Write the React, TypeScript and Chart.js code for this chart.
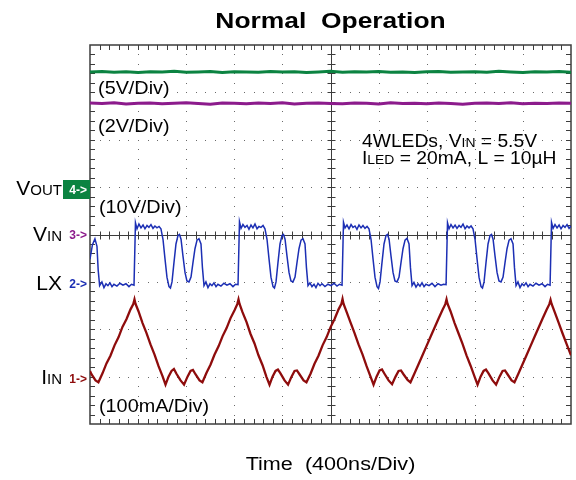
import React, { useEffect, useRef } from "react";
import { Chart, registerables } from "chart.js";

Chart.register(...registerables);

// ---------------- data (time in ns, amplitude in screen divisions from centre) ----------------
const NS_PER_DIV = 400;
const X_DIVS = 10;
const Y_DIVS = 8;
const TIME_MAX = NS_PER_DIV * X_DIVS;
const DIV_HALF = Y_DIVS / 2;

const flatTimes = [
  0, 100, 200, 300, 400, 500, 600, 700, 800, 900, 1000, 1100, 1200, 1300, 1400, 1500, 1600, 1700, 1800, 1900,
  2000, 2100, 2200, 2300, 2400, 2500, 2600, 2700, 2800, 2900, 3000, 3100, 3200, 3300, 3400, 3500, 3600, 3700,
  3800, 3900, 4000,
];

// CH4 VOUT trace
const voutLevels = [
  3.43, 3.44, 3.425, 3.435, 3.42, 3.435, 3.43, 3.445, 3.425, 3.43, 3.44, 3.42, 3.435, 3.43, 3.425, 3.44, 3.43,
  3.435, 3.42, 3.43, 3.445, 3.425, 3.435, 3.43, 3.44, 3.425, 3.43, 3.42, 3.435, 3.44, 3.425, 3.43, 3.435, 3.425,
  3.445, 3.43, 3.42, 3.435, 3.43, 3.44, 3.425,
];

// CH3 VIN trace
const vinLevels = [
  2.775, 2.765, 2.78, 2.755, 2.77, 2.775, 2.76, 2.77, 2.78, 2.765, 2.75, 2.775, 2.77, 2.76, 2.775, 2.765, 2.78,
  2.755, 2.77, 2.775, 2.765, 2.76, 2.775, 2.77, 2.755, 2.78, 2.765, 2.77, 2.76, 2.775, 2.765, 2.75, 2.77, 2.775,
  2.765, 2.78, 2.76, 2.77, 2.765, 2.775, 2.77,
];

// CH2 LX switching node
const lxTrace: [number, number][] = [
  [0, -0.52], [20, -0.22], [41, -0.09], [58, -0.25], [68, -0.75], [80, -1.08], [99, -1.0], [116, -1.12],
  [133, -1.04], [149, -1.08], [166, -1.02], [183, -1.1], [199, -1.05], [224, -1.09], [249, -1.03], [274, -1.07],
  [299, -1.04], [324, -1.1], [345, -1.05],
  [366, -1.07], [378, 0.25], [391, 0.12], [407, 0.22], [424, 0.14], [441, 0.2], [457, 0.12], [474, 0.19],
  [490, 0.15], [507, 0.21], [524, 0.13], [540, 0.18], [557, 0.14], [574, 0.17], [590, 0.12], [607, -0.1],
  [623, -0.5], [640, -0.9], [657, -1.1], [669, -1.13], [682, -1.0], [698, -0.6], [715, -0.2], [732, -0.02],
  [744, 0.0], [757, -0.1], [773, -0.45], [790, -0.8], [806, -0.98], [823, -1.0], [840, -0.9], [856, -0.6],
  [873, -0.3], [890, -0.12], [906, -0.09], [923, -0.2], [935, -0.7], [948, -1.08], [964, -1.0], [981, -1.12],
  [998, -1.04], [1014, -1.08], [1031, -1.02], [1048, -1.1], [1064, -1.05], [1089, -1.09], [1114, -1.03],
  [1139, -1.07], [1164, -1.04], [1189, -1.1], [1210, -1.05],
  [1231, -1.06], [1243, 0.27], [1256, 0.13], [1272, 0.21], [1289, 0.15], [1306, 0.19], [1322, 0.11],
  [1339, 0.2], [1355, 0.14], [1372, 0.22], [1389, 0.12], [1405, 0.17], [1422, 0.15], [1439, 0.19], [1455, 0.12],
  [1472, -0.1], [1488, -0.5], [1505, -0.9], [1522, -1.1], [1534, -1.13], [1547, -1.0], [1563, -0.6],
  [1580, -0.2], [1597, -0.02], [1609, 0.0], [1622, -0.1], [1638, -0.45], [1655, -0.8], [1671, -0.98],
  [1688, -1.0], [1705, -0.9], [1721, -0.6], [1738, -0.3], [1755, -0.12], [1771, -0.09], [1788, -0.2],
  [1800, -0.7], [1813, -1.08], [1829, -1.02], [1846, -1.1], [1863, -1.05], [1879, -1.12], [1896, -1.03],
  [1913, -1.08], [1929, -1.04], [1954, -1.1], [1979, -1.05], [2004, -1.08], [2029, -1.03], [2054, -1.09],
  [2075, -1.05],
  [2096, -1.07], [2108, 0.26], [2121, 0.14], [2137, 0.2], [2154, 0.12], [2171, 0.21], [2187, 0.15],
  [2204, 0.18], [2220, 0.11], [2237, 0.2], [2254, 0.14], [2270, 0.19], [2287, 0.13], [2304, 0.17], [2320, 0.12],
  [2337, -0.1], [2353, -0.5], [2370, -0.9], [2387, -1.1], [2399, -1.14], [2412, -1.0], [2428, -0.6],
  [2445, -0.2], [2462, -0.02], [2474, 0.0], [2487, -0.1], [2503, -0.45], [2520, -0.8], [2536, -0.98],
  [2553, -1.0], [2570, -0.9], [2586, -0.6], [2603, -0.3], [2620, -0.12], [2636, -0.08], [2653, -0.2],
  [2665, -0.7], [2678, -1.08], [2694, -1.01], [2711, -1.11], [2728, -1.04], [2744, -1.09], [2761, -1.02],
  [2778, -1.1], [2794, -1.05], [2819, -1.08], [2844, -1.03], [2869, -1.1], [2894, -1.04], [2919, -1.07],
  [2940, -1.05],
  [2961, -1.06], [2973, 0.25], [2986, 0.12], [3002, 0.21], [3019, 0.14], [3036, 0.2], [3052, 0.13],
  [3069, 0.19], [3085, 0.15], [3102, 0.22], [3119, 0.12], [3135, 0.18], [3152, 0.14], [3169, 0.18], [3185, 0.12],
  [3202, -0.1], [3218, -0.5], [3235, -0.9], [3252, -1.1], [3264, -1.13], [3277, -1.0], [3293, -0.6],
  [3310, -0.2], [3327, -0.02], [3339, 0.0], [3352, -0.1], [3368, -0.45], [3385, -0.8], [3401, -0.98],
  [3418, -1.0], [3435, -0.9], [3451, -0.6], [3468, -0.3], [3485, -0.12], [3501, -0.09], [3518, -0.2],
  [3530, -0.7], [3543, -1.08], [3559, -1.0], [3576, -1.12], [3593, -1.04], [3609, -1.08], [3626, -1.02],
  [3643, -1.1], [3659, -1.05], [3684, -1.09], [3709, -1.03], [3734, -1.07], [3759, -1.04], [3784, -1.1],
  [3805, -1.05],
  [3826, -1.07], [3838, 0.26], [3851, 0.13], [3867, 0.21], [3884, 0.14], [3901, 0.2], [3917, 0.12],
  [3934, 0.19], [3950, 0.15], [3967, 0.21], [3984, 0.13], [4000, 0.18],
];

// CH1 input current
const iinTrace: [number, number][] = [
  [0, -2.88], [12, -2.95], [46, -3.08], [70, -3.12], [104, -2.93], [137, -2.72], [170, -2.56], [204, -2.34],
  [237, -2.17], [270, -1.95], [303, -1.79], [337, -1.58], [360, -1.47], [370, -1.37], [378, -1.46],
  [403, -1.62], [437, -1.87], [470, -2.08], [503, -2.32], [536, -2.53], [570, -2.78], [603, -2.99], [628, -3.17],
  [653, -3.0], [678, -2.88], [698, -2.84], [719, -2.94], [753, -3.08], [782, -3.17], [811, -3.0], [836, -2.88],
  [856, -2.86], [877, -2.95], [911, -3.08], [935, -3.12], [969, -2.92], [1002, -2.75], [1035, -2.54],
  [1069, -2.36], [1102, -2.15], [1135, -1.98], [1168, -1.77], [1202, -1.6], [1225, -1.47], [1235, -1.37],
  [1243, -1.46],
  [1268, -1.64], [1302, -1.85], [1335, -2.1], [1368, -2.3], [1401, -2.55], [1435, -2.76], [1468, -3.01],
  [1493, -3.17], [1518, -3.0], [1543, -2.88], [1563, -2.85], [1584, -2.93], [1618, -3.08], [1647, -3.17],
  [1676, -3.0], [1701, -2.88], [1721, -2.87], [1742, -2.95], [1776, -3.08], [1800, -3.12], [1834, -2.94],
  [1867, -2.73], [1900, -2.56], [1934, -2.34], [1967, -2.17], [2000, -1.96], [2033, -1.79], [2067, -1.58],
  [2090, -1.47], [2100, -1.36], [2108, -1.46],
  [2133, -1.63], [2167, -1.86], [2200, -2.08], [2233, -2.32], [2266, -2.53], [2300, -2.78], [2333, -3.0],
  [2358, -3.17], [2383, -3.0], [2408, -2.87], [2428, -2.85], [2449, -2.94], [2483, -3.08], [2512, -3.16],
  [2541, -3.0], [2566, -2.88], [2586, -2.87], [2607, -2.95], [2641, -3.07], [2665, -3.12], [2699, -2.93],
  [2732, -2.74], [2765, -2.55], [2799, -2.35], [2832, -2.16], [2865, -1.97], [2898, -1.78], [2932, -1.59],
  [2955, -1.47], [2965, -1.37], [2973, -1.46],
  [2998, -1.62], [3032, -1.87], [3065, -2.09], [3098, -2.31], [3131, -2.55], [3165, -2.77], [3198, -3.0],
  [3223, -3.17], [3248, -3.0], [3273, -2.88], [3293, -2.85], [3314, -2.93], [3348, -3.08], [3377, -3.17],
  [3406, -3.0], [3431, -2.88], [3451, -2.87], [3472, -2.95], [3506, -3.08], [3530, -3.12], [3564, -2.93],
  [3597, -2.74], [3630, -2.55], [3664, -2.35], [3697, -2.16], [3730, -1.97], [3763, -1.78], [3797, -1.59],
  [3820, -1.47], [3830, -1.38], [3838, -1.46],
  [3863, -1.63], [3897, -1.86], [3930, -2.09], [3963, -2.31], [4000, -2.55],
];

// channel ground markers (level in divisions)
const markerNames = ["V", "V", "LX", "I"];
const markerSubs = ["OUT", "IN", "", "IN"];
const markerTags = ["4->", "3->", "2->", "1->"];
const markerLevels = [0.95, 0, -1.04, -3.03];

// on-screen annotations (time ns, level div)
const scaleTexts = ["(5V/Div)", "(2V/Div)", "(10V/Div)", "(100mA/Div)"];
const scaleTextPos: [number, number][] = [[67, 2.97], [67, 2.17], [75, 0.46], [75, -3.74]];

const TITLE = "Normal  Operation";
const X_TITLE = "Time  (400ns/Div)";

// ---------------- styles ----------------
const FONT = "'Liberation Sans', Arial, Helvetica, sans-serif";
const GREEN = "#0b8341";
const PURPLE = "#8c1b8c";
const BLUE = "#1c2fb4";
const RED = "#8e0c0c";
const CH_COLORS = [GREEN, PURPLE, BLUE, RED];
const FRAME = "#3c3c3c";
const DOT = "#6a6a6a";

type Part = { text: string; size: number; bold?: boolean; color?: string; dy?: number };

function drawRich(ctx: CanvasRenderingContext2D, parts: Part[], x: number, y: number, align: string, stretch: number) {
  ctx.save();
  let w = 0;
  for (const p of parts) {
    ctx.font = `${p.bold ? "bold " : ""}${p.size}px ${FONT}`;
    w += ctx.measureText(p.text).width;
  }
  const sx = align === "center" ? x - (w * stretch) / 2 : align === "right" ? x - w * stretch : x;
  ctx.translate(sx, y);
  ctx.scale(stretch, 1);
  ctx.textAlign = "left";
  ctx.textBaseline = "alphabetic";
  let cx = 0;
  for (const p of parts) {
    ctx.font = `${p.bold ? "bold " : ""}${p.size}px ${FONT}`;
    ctx.fillStyle = p.color || "#000";
    ctx.fillText(p.text, cx, p.dy || 0);
    cx += ctx.measureText(p.text).width;
  }
  ctx.restore();
}

const scopePlugin = {
  id: "scopeScreen",
  beforeDatasetsDraw(chart: any) {
    const { ctx, chartArea: a, scales } = chart;
    const xs = scales.x;
    const ys = scales.y;
    ctx.save();
    // dotted graticule
    ctx.fillStyle = DOT;
    for (let d = 1; d < X_DIVS; d++) {
      if (d === X_DIVS / 2) continue;
      const px = Math.round(xs.getPixelForValue(d * NS_PER_DIV));
      for (let m = 1; m < Y_DIVS * 5; m++) {
        const py = Math.round(ys.getPixelForValue(-DIV_HALF + m / 5));
        ctx.fillRect(px, py, 1, 1);
      }
    }
    for (let d = 1; d < Y_DIVS; d++) {
      if (d === Y_DIVS / 2) continue;
      const py = Math.round(ys.getPixelForValue(-DIV_HALF + d));
      for (let m = 1; m < X_DIVS * 5; m++) {
        const px = Math.round(xs.getPixelForValue((m * NS_PER_DIV) / 5));
        ctx.fillRect(px, py, 1, 1);
      }
    }
    // centre cross + border ticks
    ctx.strokeStyle = FRAME;
    ctx.lineWidth = 1;
    const cx = Math.round(xs.getPixelForValue(TIME_MAX / 2)) + 0.5;
    const cy = Math.round(ys.getPixelForValue(0)) + 0.5;
    ctx.beginPath();
    ctx.moveTo(cx, a.top);
    ctx.lineTo(cx, a.bottom);
    ctx.moveTo(a.left, cy);
    ctx.lineTo(a.right, cy);
    for (let m = 1; m < X_DIVS * 5; m++) {
      const px = Math.round(xs.getPixelForValue((m * NS_PER_DIV) / 5)) + 0.5;
      ctx.moveTo(px, a.top);
      ctx.lineTo(px, a.top + 5);
      ctx.moveTo(px, a.bottom - 5);
      ctx.lineTo(px, a.bottom);
      ctx.moveTo(px, cy - 4);
      ctx.lineTo(px, cy + 4);
    }
    for (let m = 1; m < Y_DIVS * 5; m++) {
      const py = Math.round(ys.getPixelForValue(-DIV_HALF + m / 5)) + 0.5;
      ctx.moveTo(a.left, py);
      ctx.lineTo(a.left + 5, py);
      ctx.moveTo(a.right - 5, py);
      ctx.lineTo(a.right, py);
      ctx.moveTo(cx - 4, py);
      ctx.lineTo(cx + 4, py);
    }
    ctx.stroke();
    ctx.lineWidth = 1.5;
    ctx.strokeRect(a.left, a.top, a.right - a.left, a.bottom - a.top);
    ctx.restore();
  },
  afterDraw(chart: any) {
    const { ctx, chartArea: a, scales } = chart;
    const xs = scales.x;
    const ys = scales.y;
    const mid = (a.left + a.right) / 2;
    drawRich(ctx, [{ text: TITLE, size: 22, bold: true }], mid, 28, "center", 1.2);
    drawRich(ctx, [{ text: X_TITLE, size: 18 }], mid, 470, "center", 1.2);

    scaleTexts.forEach((t, i) => {
      const [tx, ty] = scaleTextPos[i];
      drawRich(ctx, [{ text: t, size: 18 }], xs.getPixelForValue(tx), ys.getPixelForValue(ty), "left", 1.1);
    });

    const infoX = xs.getPixelForValue(2262);
    drawRich(
      ctx,
      [
        { text: "4WLEDs, V", size: 18 },
        { text: "IN", size: 13 },
        { text: " = 5.5V", size: 18 },
      ],
      infoX,
      ys.getPixelForValue(1.85),
      "left",
      1.07
    );
    drawRich(
      ctx,
      [
        { text: "I", size: 18 },
        { text: "LED", size: 13 },
        { text: " = 20mA, L = 10\u00b5H", size: 18 },
      ],
      infoX,
      ys.getPixelForValue(1.49),
      "left",
      1.07
    );

    // channel markers at left of the screen
    markerLevels.forEach((lv, i) => {
      const py = ys.getPixelForValue(lv);
      const color = CH_COLORS[i];
      const tagRight = a.left - 1;
      if (i === 0) {
        ctx.save();
        ctx.fillStyle = color;
        ctx.fillRect(a.left - 27, Math.round(py) - 9, 27, 19);
        ctx.restore();
        drawRich(ctx, [{ text: markerTags[i], size: 12, bold: true, color: "#fff" }], tagRight - 2, py + 4.5, "right", 1.0);
      } else {
        drawRich(ctx, [{ text: markerTags[i], size: 12, bold: true, color }], tagRight - 2, py + 4.5, "right", 1.0);
      }
      const parts: Part[] = [{ text: markerNames[i], size: 21 }];
      if (markerSubs[i]) parts.push({ text: markerSubs[i], size: 15 });
      drawRich(ctx, parts, a.left - 28, py + 6, "right", 1.0);
    });
  },
};

export default function App() {
  const ref = useRef<HTMLCanvasElement | null>(null);
  useEffect(() => {
    if (!ref.current) return;
    const chart = new Chart(ref.current, {
      type: "line",
      data: {
        datasets: [
          {
            label: "IIN",
            data: iinTrace.map(([t, v]) => ({ x: t, y: v })),
            borderColor: RED,
            borderWidth: 2.3,
            pointRadius: 0,
            tension: 0,
          },
          {
            label: "LX",
            data: lxTrace.map(([t, v]) => ({ x: t, y: v })),
            borderColor: BLUE,
            borderWidth: 1.5,
            pointRadius: 0,
            tension: 0,
          },
          {
            label: "VIN",
            data: flatTimes.map((t, i) => ({ x: t, y: vinLevels[i] })),
            borderColor: PURPLE,
            borderWidth: 3,
            pointRadius: 0,
            tension: 0,
          },
          {
            label: "VOUT",
            data: flatTimes.map((t, i) => ({ x: t, y: voutLevels[i] })),
            borderColor: GREEN,
            borderWidth: 3,
            pointRadius: 0,
            tension: 0,
          },
        ],
      },
      options: {
        responsive: false,
        animation: false,
        events: [],
        layout: { padding: { left: 90, right: 5, top: 45, bottom: 56 } },
        scales: {
          x: { type: "linear", min: 0, max: TIME_MAX, display: false },
          y: { type: "linear", min: -DIV_HALF, max: DIV_HALF, display: false },
        },
        plugins: { legend: { display: false }, tooltip: { enabled: false }, title: { display: false } },
      },
      plugins: [scopePlugin],
    } as any);
    return () => chart.destroy();
  }, []);
  return (
    <div style={{ position: "fixed", left: 0, top: 0, width: 576, height: 480, background: "#fff" }}>
      <canvas ref={ref} width={576} height={480} style={{ display: "block" }} />
    </div>
  );
}
